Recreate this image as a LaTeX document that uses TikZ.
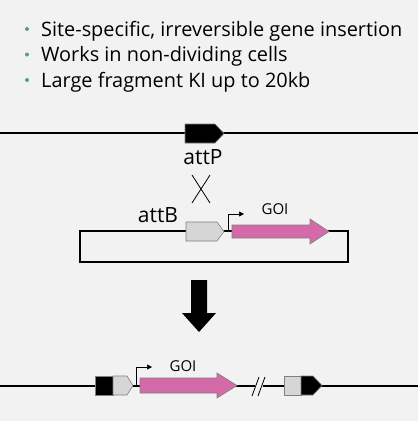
\documentclass[tikz,border=0pt]{standalone}
\usepackage{fontspec}
\setmainfont{Open Sans}
\usetikzlibrary{arrows.meta}
\definecolor{bg}{HTML}{F2F2F2}
\definecolor{goi}{HTML}{D56AA8}
\definecolor{attgray}{HTML}{D6D6D6}
\definecolor{edge}{HTML}{7F7F7F}
\definecolor{bul}{HTML}{4E9C9C}
\begin{document}
\begin{tikzpicture}[x=1pt,y=-1pt,
  dna/.style={line width=1.1pt,black},
  blk/.style={draw=edge,line width=0.6pt,fill=black},
  gblk/.style={draw=edge,line width=0.6pt,fill=attgray},
  goiarrow/.style={draw=edge,line width=0.6pt,fill=goi},
  prom/.style={line width=0.7pt,-{Triangle[length=5pt,width=5pt]}},
  lbl/.style={inner sep=0pt,font=\fontsize{21}{24}\selectfont},
  glbl/.style={inner sep=0pt,font=\fontsize{15}{18}\selectfont},
  btxt/.style={inner sep=0pt,anchor=base west,font=\fontsize{19.9}{24}\selectfont}]
\fill[bg] (0,0) rectangle (418,421);
\useasboundingbox (0,0) rectangle (418,421);
% bullets
\foreach \yy/\tt [count=\i] in {36/{Site-specific, irreversible gene insertion},61.5/{Works in non-dividing cells},87/{Large fragment KI up to 20kb}}{
  \fill[bul] (27,\yy-7) circle (2pt);
  \node[btxt] (b\i) at (41,\yy) {\tt};
}
% top line with attP
\draw[dna] (0,133) -- (418,133);
\draw[blk] (185,124) -- (215,124) -- (224,133.5) -- (215,143) -- (185,143) -- cycle;
\node[lbl] (attP) at (203,157) {attP};
% crossing
\draw[line width=0.8pt] (192,175) -- (210,203) (210,175) -- (192,203);
\node[lbl] (attB) at (158,215) {attB};
% plasmid
\draw[dna] (80,231) rectangle (348,262);
\draw[gblk] (186,222) -- (217,222) -- (224,231.5) -- (217,241) -- (186,241) -- cycle;
\draw[prom] (228,231) -- (228,214) -- (244,214);
\draw[goiarrow] (232,225) -- (310,225) -- (310,219) -- (329,231.5) -- (310,244) -- (310,238) -- (232,238) -- cycle;
\node[glbl] (goi1) at (275,209) {GOI};
% big down arrow
\fill[black] (191,280) -- (207,280) -- (207,313) -- (216,313) -- (199,332) -- (182,313) -- (191,313) -- cycle;
% bottom line
\draw[dna] (0,386) -- (255,386) (263,386) -- (418,386);
\draw[line width=0.8pt] (252,396) -- (259,377) (258,396) -- (265,377);
\draw[blk] (95,376) rectangle (113,395);
\draw[gblk] (113,376) -- (127,376) -- (133,385.5) -- (127,395) -- (113,395) -- cycle;
\draw[prom] (136,386) -- (136,367) -- (152,367);
\draw[goiarrow] (140,378) -- (217,378) -- (217,373) -- (237,385.5) -- (217,398) -- (217,393) -- (140,393) -- cycle;
\node[glbl] (goi2) at (183,366) {GOI};
\draw[gblk] (284,376) rectangle (301,395);
\draw[blk] (301,376) -- (313,376) -- (322,385.5) -- (313,395) -- (301,395) -- cycle;
\end{tikzpicture}
\end{document}
